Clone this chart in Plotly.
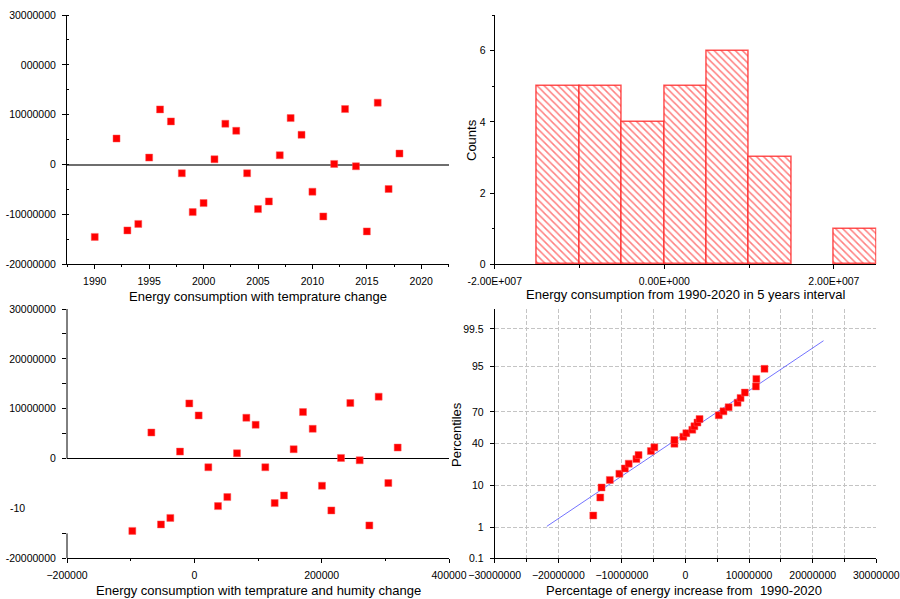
import plotly.graph_objects as go
from statistics import NormalDist

FONT = "Arial, Liberation Sans, sans-serif"

# ---------------- data ----------------
years = [1990, 1992, 1993, 1994, 1995, 1996, 1997, 1998, 1999, 2000, 2001, 2002, 2003, 2004,
         2005, 2006, 2007, 2008, 2009, 2010, 2011, 2012, 2013, 2014, 2015, 2016, 2017, 2018]
energy_change = [-14.5e6, 5.23e6, -13.2e6, -11.9e6, 1.4e6, 11.07e6, 8.66e6, -1.74e6, -9.53e6,
                 -7.72e6, 1.07e6, 8.19e6, 6.78e6, -1.74e6, -8.93e6, -7.38e6, 1.88e6, 9.33e6,
                 5.97e6, -5.44e6, -10.4e6, 0.13e6, 11.14e6, -0.34e6, -13.4e6, 12.42e6, -4.9e6, 2.21e6]
humidity_change = [-97.4e3, -67.5e3, -52.4e3, -37.7e3, -22.5e3, -7.9e3, 6.8e3, 22.0e3, 37.2e3,
                   51.8e3, 67.0e3, 81.7e3, 96.3e3, 111.5e3, 126.2e3, 140.8e3, 156.0e3, 170.7e3,
                   185.9e3, 200.5e3, 215.2e3, 230.4e3, 245.0e3, 259.7e3, 274.9e3, 289.5e3,
                   304.7e3, 319.4e3]

hist_bin_start = [-15e6, -10e6, -5e6, 0, 5e6, 10e6, 20e6]
hist_bin_width = 5e6
hist_counts = [5, 5, 4, 5, 6, 3, 1]

qq_percentiles = [2.1, 5.6, 9.0, 12.4, 15.8, 19.2, 22.6, 26.1, 29.5, 32.9, 36.3, 39.7, 43.2, 46.6,
                  50.0, 53.4, 56.8, 60.3, 63.7, 67.1, 70.5, 73.9, 77.4, 80.8, 84.2, 87.6, 91.0, 94.4]
fit_x = [-21.8e6, 21.7e6]
fit_pct = [1.07, 98.88]

pct_ticks = [0.1, 1, 10, 40, 70, 95, 99.5]
pct_labels = ["0.1", "1", "10", "40", "70", "95", "99.5"]

nd = NormalDist()
def z(p):
    return nd.inv_cdf(p / 100.0)

# ---------------- figure ----------------
fig = go.Figure()

marker = dict(symbol="square", size=7, color="#ff0000",
              line=dict(color="rgba(255,90,90,0.8)", width=0.6))

fig.add_trace(go.Scatter(x=years, y=energy_change, mode="markers", marker=marker,
                         xaxis="x", yaxis="y", showlegend=False))

fig.add_trace(go.Bar(x=[s + hist_bin_width / 2 for s in hist_bin_start], y=hist_counts,
                     width=hist_bin_width,
                     marker=dict(color="white",
                                 line=dict(color="rgba(255,40,40,0.8)", width=1.5),
                                 pattern=dict(shape="\\", fgcolor="#ff0000", bgcolor="white",
                                              size=5, solidity=0.3)),
                     xaxis="x2", yaxis="y2", showlegend=False))

fig.add_trace(go.Scatter(x=humidity_change, y=energy_change, mode="markers", marker=marker,
                         xaxis="x3", yaxis="y3", showlegend=False))

fig.add_trace(go.Scatter(x=fit_x, y=[z(p) for p in fit_pct], mode="lines",
                         line=dict(color="rgba(90,90,255,0.85)", width=1),
                         xaxis="x4", yaxis="y4", showlegend=False))
fig.add_trace(go.Scatter(x=sorted(energy_change), y=[z(p) for p in qq_percentiles],
                         mode="markers", marker=marker,
                         xaxis="x4", yaxis="y4", showlegend=False))

tickfont = dict(family=FONT, size=10.5, color="black")

def ax(**kw):
    d = dict(showline=True, linecolor="black", linewidth=1, ticks="outside", ticklen=4,
             tickcolor="black", tickwidth=1, showgrid=False, zeroline=False,
             tickfont=tickfont, automargin=False, fixedrange=True, tickformat="d")
    d.update(kw)
    return d

XL = [67 / 900, 449 / 900]
XR = [494.7 / 900, 876.3 / 900]
YT = [1 - 264.3 / 599, 1 - 15 / 599]
YB = [1 - 558.3 / 599, 1 - 309 / 599]

minor_small = lambda dt, t0=0: dict(ticks="outside", ticklen=2, tickcolor="black", dtick=dt, tick0=t0)

fig.update_layout(
    # top-left
    xaxis=ax(domain=XL, anchor="y", range=[1987.45, 2022.55], tickmode="linear", tick0=1990,
             dtick=5, minor=minor_small(2.5, 1990), ticklabelstandoff=3),
    yaxis=ax(domain=YT, anchor="x", range=[-20e6, 30e6],
             tickvals=[-20e6, -10e6, 0, 10e6, 20e6, 30e6],
             ticktext=["-20000000", "-10000000", "0", "10000000", "000000", "30000000"],
             minor=dict(ticks="inside", ticklen=2, tickcolor="black", dtick=5e6, tick0=0),
             zeroline=True, zerolinecolor="#6e6e6e", zerolinewidth=1.6, ticklabelstandoff=4),
    # top-right histogram
    xaxis2=ax(domain=XR, anchor="y2", range=[-2e7, 2.5e7], tickvals=[-2e7, 0, 2e7],
              ticktext=["-2.00E+007", "0.00E+000", "2.00E+007"],
              minor=dict(ticks="outside", ticklen=3, tickcolor="black", tickvals=[-1e7, 1e7]),
              ticklabelstandoff=3),
    yaxis2=ax(domain=YT, anchor="x2", range=[0, 7], tickvals=[0, 2, 4, 6],
              minor=dict(ticks="outside", ticklen=2, tickcolor="black", tickvals=[1, 3, 5, 7]),
              ticklabelstandoff=2),
    # bottom-left
    xaxis3=ax(domain=XL, anchor="y3", range=[-200000, 400000], tickmode="linear", tick0=0,
              dtick=200000, minor=minor_small(100000, 0), ticklabelstandoff=3),
    yaxis3=ax(domain=YB, anchor="x3", range=[-20e6, 30e6], showline=False,
              tickvals=[-20e6, -15e6, 0, 5e6, 10e6, 15e6, 20e6, 25e6, 30e6],
              ticktext=["-20000000", "", "0", "", "10000000", "", "20000000", "", "30000000"],
              zeroline=True, zerolinecolor="black", zerolinewidth=1, ticklabelstandoff=4),
    # bottom-right probability plot
    xaxis4=ax(domain=XR, anchor="y4", range=[-30e6, 30e6], tickmode="linear", tick0=0,
              dtick=10e6, showgrid=True, gridcolor="#c4c4c4", griddash="4px,2px",
              minor=dict(ticks="outside", ticklen=3, tickcolor="black", dtick=5e6, tick0=0,
                         showgrid=True, gridcolor="#c4c4c4", griddash="4px,2px"),
              ticklabelstandoff=3),
    yaxis4=ax(domain=YB, anchor="x4", range=[z(0.1), 3.067], tickformat="",
              tickvals=[z(p) for p in pct_ticks], ticktext=pct_labels,
              showgrid=True, gridcolor="#c4c4c4", griddash="4px,2px", ticklabelstandoff=4),
)

# broken y-axis line of the bottom-left panel
for y0, y1 in [(0, 30e6), (-15e6, -20e6)]:
    fig.add_shape(type="line", xref="x3 domain", yref="y3", x0=0, x1=0, y0=y0, y1=y1,
                  line=dict(color="black", width=1))

title_font = dict(family=FONT, size=13, color="black")
annots = [
    dict(text="Energy consumption with temprature change", x=258 / 900, y=1 - 296 / 599),
    dict(text="Energy consumption from 1990-2020 in 5 years interval", x=685.5 / 900, y=1 - 294 / 599),
    dict(text="Energy consumption with temprature and humity change", x=258 / 900, y=1 - 590 / 599),
    dict(text="Percentage of energy increase from  1990-2020", x=683.7 / 900, y=1 - 590 / 599),
]
for a in annots:
    fig.add_annotation(xref="paper", yref="paper", showarrow=False, font=title_font,
                       xanchor="center", yanchor="middle", **a)
fig.add_annotation(text="Counts", xref="paper", yref="paper", x=472 / 900, y=1 - 140 / 599,
                   textangle=-90, showarrow=False, font=title_font, xanchor="center", yanchor="middle")
fig.add_annotation(text="Percentiles", xref="paper", yref="paper", x=456 / 900, y=1 - 435 / 599,
                   textangle=-90, showarrow=False, font=title_font, xanchor="center", yanchor="middle")
# truncated tick label in the bottom-left panel
fig.add_annotation(text="-10", xref="paper", yref="y3", x=8 / 900, y=-10e6, showarrow=False,
                   font=tickfont, xanchor="left", yanchor="middle")

fig.update_layout(width=900, height=599, margin=dict(l=0, r=0, t=0, b=0),
                  paper_bgcolor="white", plot_bgcolor="white", bargap=0,
                  font=dict(family=FONT, color="black"))

fig.write_html("out.html", config={"displayModeBar": False},
               post_script="document.body.style.margin='0px';document.body.style.padding='0px';")
